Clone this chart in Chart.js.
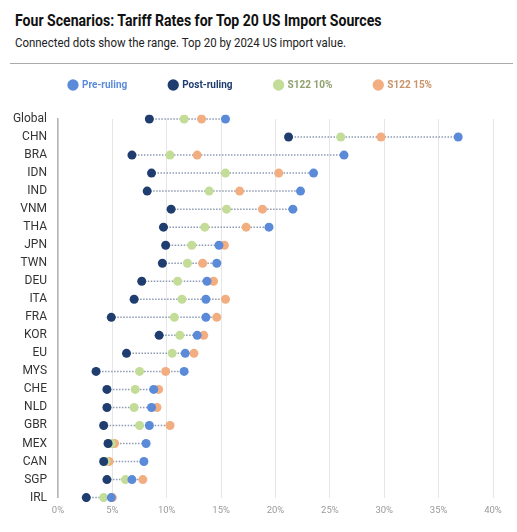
<!DOCTYPE html>
<html>
<head>
<meta charset="utf-8">
<script src="https://cdn.jsdelivr.net/npm/chart.js@4.4.1/dist/chart.umd.min.js"></script>
<style>
  body { margin: 0; background: #fff; font-family: Roboto, sans-serif; width: 517px; height: 532px; position: relative; overflow: hidden; }
  #title { position: absolute; left: 15px; top: 11px; font-size: 16px; font-weight: bold; color: #111; white-space: nowrap; transform: scaleX(0.88); transform-origin: left top; }
  #sub { position: absolute; left: 15px; top: 35px; font-size: 13px; color: #222; white-space: nowrap; transform: scaleX(0.88); transform-origin: left top; }
  #rule { position: absolute; left: 10px; top: 63px; width: 503px; height: 0; border-top: 1.5px solid #aaa; }
  #wrap { position: absolute; left: 0; top: 38px; width: 517px; height: 494px; }
</style>
</head>
<body>
<div id="title">Four Scenarios: Tariff Rates for Top 20 US Import Sources</div>
<div id="sub">Connected dots show the range. Top 20 by 2024 US import value.</div>
<div id="rule"></div>
<div id="wrap"><canvas id="chart"></canvas></div>
<script>
// pays / sources d'import
const countries = ["Global","CHN","BRA","IDN","IND","VNM","THA","JPN","TWN","DEU","ITA","FRA","KOR","EU","MYS","CHE","NLD","GBR","MEX","CAN","SGP","IRL"];

// taux en %
const preRuling  = [15.4, 36.8, 26.3, 23.5, 22.3, 21.6, 19.4, 14.8, 14.6, 13.7, 13.6, 13.6, 12.8, 11.7, 11.6, 8.8, 8.6, 8.4, 8.1, 7.9, 6.8, 4.9];
const postRuling = [8.4, 21.2, 6.8, 8.6, 8.2, 10.4, 9.7, 9.9, 9.6, 7.7, 7.0, 4.9, 9.3, 6.3, 3.5, 4.5, 4.5, 4.2, 4.6, 4.2, 4.5, 2.6];
const s122_10    = [11.6, 26.0, 10.3, 15.4, 13.9, 15.5, 13.5, 12.3, 11.9, 11.0, 11.4, 10.7, 11.2, 10.5, 7.5, 7.1, 7.0, 7.5, 4.9, 4.4, 6.2, 4.2];
const s122_15    = [13.2, 29.7, 12.8, 20.3, 16.7, 18.8, 17.3, 15.3, 13.3, 14.3, 15.4, 14.6, 13.4, 12.5, 9.9, 9.25, 9.1, 10.3, 5.2, 4.7, 7.8, 5.0];

const xTicks = [0, 5, 10, 15, 20, 25, 30, 35, 40];

const colPre = "#5b8bd8";
const colPost = "#1f3d6e";
const colS10 = "#c3dc98";
const colS15 = "#f2ad80";

// ligne pointillée entre le min et le max de chaque ligne
const rangeLines = {
    id: "rangeLines",
    beforeDatasetsDraw(chart) {
        const ctx = chart.ctx;
        const xs = chart.scales.x;
        const ys = chart.scales.y;
        ctx.save();
        ctx.strokeStyle = "#8d9bb3";
        ctx.lineWidth = 1.5;
        ctx.setLineDash([1.5, 1.5]);
        countries.forEach((c, i) => {
            const vals = [preRuling[i], postRuling[i], s122_10[i], s122_15[i]];
            const lo = Math.min(...vals);
            const hi = Math.max(...vals);
            const y = ys.getPixelForValue(i);
            ctx.beginPath();
            ctx.moveTo(xs.getPixelForValue(lo), y);
            ctx.lineTo(xs.getPixelForValue(hi), y);
            ctx.stroke();
        });
        ctx.restore();
    }
};

// espace sous la légende
const legendMargin = {
    id: "legendMargin",
    beforeInit(chart) {
        const fit = chart.legend.fit;
        chart.legend.fit = function () {
            fit.bind(chart.legend)();
            this.height += 19;
        };
    }
};

function ds(label, data, color) {
    return {
        label: label,
        data: data,
        backgroundColor: color,
        borderColor: color,
        pointRadius: 4.5,
        pointHoverRadius: 4.5,
        pointBorderWidth: 0,
        showLine: false
    };
}

const ctx = document.getElementById("chart").getContext("2d");
new Chart(ctx, {
    type: "line",
    data: {
        labels: countries,
        datasets: [
            ds("Pre-ruling", preRuling, colPre),
            ds("Post-ruling", postRuling, colPost),
            ds("S122 10%", s122_10, colS10),
            ds("S122 15%", s122_15, colS15)
        ]
    },
    plugins: [rangeLines, legendMargin],
    options: {
        indexAxis: "y",
        responsive: true,
        maintainAspectRatio: false,
        animation: false,
        layout: { padding: { left: 8, right: 24, top: 0, bottom: 9 } },
        plugins: {
            tooltip: { enabled: false },
            legend: {
                position: "top",
                labels: {
                    usePointStyle: true,
                    pointStyle: "circle",
                    boxWidth: 8,
                    boxHeight: 8,
                    padding: 42,
                    font: { family: "Roboto", size: 10, weight: "bold" },
                    generateLabels(chart) {
                        return chart.data.datasets.map((d, i) => ({
                            text: d.label,
                            fillStyle: d.backgroundColor,
                            strokeStyle: d.backgroundColor,
                            lineWidth: 0,
                            pointStyle: "circle",
                            fontColor: [colPre, colPost, "#8fa06e", "#c9936a"][i],
                            datasetIndex: i
                        }));
                    }
                }
            }
        },
        scales: {
            x: {
                type: "linear",
                min: 0,
                max: 40,
                afterBuildTicks(scale) {
                    scale.ticks = xTicks.map(v => ({ value: v }));
                },
                ticks: {
                    callback: v => v + "%",
                    color: "#9a9a9a",
                    padding: 7,
                    font: { family: "Roboto", size: 9.5 }
                },
                grid: { color: "#e6e6e6", lineWidth: 1, drawTicks: false },
                border: { display: false }
            },
            y: {
                type: "category",
                afterFit(scale) { scale.width = 50; },
                ticks: {
                    autoSkip: false,
                    color: "#333",
                    padding: 11,
                    font: { family: "Roboto", size: 12 }
                },
                grid: { display: false, drawTicks: false },
                border: { display: true, color: "#b5b5b5", width: 1.5 }
            }
        }
    }
});
</script>
</body>
</html>
